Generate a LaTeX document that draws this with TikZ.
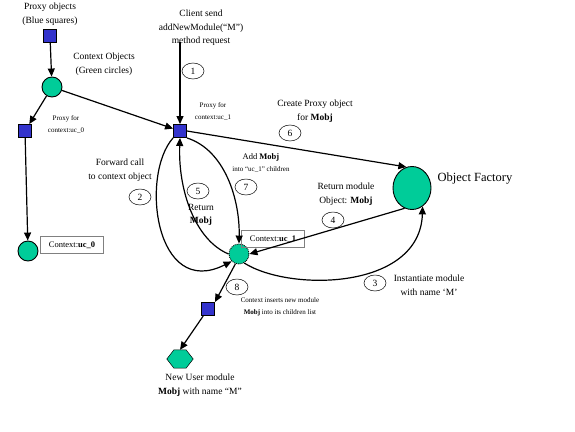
\documentclass[tikz,border=0pt]{standalone}
\usepackage{fontspec}
\setmainfont{Liberation Serif}
\usetikzlibrary{shapes.geometric,arrows.meta,calc}
\definecolor{pblue}{RGB}{51,51,204}
\definecolor{cgreen}{RGB}{0,204,153}
\tikzset{
  proxy/.style={rectangle,draw,fill=pblue,minimum size=13pt,inner sep=0pt,line width=0.9pt},
  ctx/.style={circle,draw,fill=cgreen,minimum size=20pt,inner sep=0pt,line width=0.9pt},
  num/.style={ellipse,draw,line width=0.5pt,minimum width=22pt,minimum height=16pt,inner sep=0pt,font=\fontsize{9.5}{10}\selectfont},
  lbl/.style={align=center,font=\fontsize{9.5}{13.5}\selectfont,inner sep=0pt},
  sml/.style={align=center,font=\fontsize{7}{12}\selectfont,inner sep=0pt},
  cbox/.style={draw=gray,line width=0.4pt,rectangle,inner sep=2.5pt,minimum width=63pt,minimum height=17pt,font=\fontsize{8.5}{9}\selectfont},
  arr/.style={line width=1.2pt,-{Triangle[length=8pt,width=7pt]}},
}
\begin{document}
\begin{tikzpicture}[x=1pt,y=-1pt]
\useasboundingbox (0,0) rectangle (575,431);
% nodes
\node[lbl] (tproxy) at (50,14) {Proxy objects\\(Blue squares)};
\node[proxy] (sq0) at (50,36) {};
\node[ctx] (g0) at (52,87) {};
\node[lbl] (tctx) at (104,64) {Context Objects\\(Green circles)};
\node[proxy] (pu0) at (25,131) {};
\node[sml] (tpu0) at (66,124) {Proxy for\\context:uc\_0};
\node[ctx] (cu0) at (28,251) {};
\node[cbox] (bu0) at (72,245) {Context:\textbf{uc\_0}};
\node[lbl] (tclient) at (201,28) {Client send\\addNewModule(“M”)\\method request};
\coordinate (cstart) at (180,42);
\node[num] (n1) at (193,71) {1};
\node[proxy] (pu1) at (180,131) {};
\node[sml] (tpu1) at (213,111) {Proxy for\\context:uc\_1};
\node[ellipse,draw,fill=cgreen,line width=0.9pt,minimum width=38pt,minimum height=43pt,inner sep=0pt] (fac) at (412,188) {};
\node[font=\fontsize{12.5}{14}\selectfont,inner sep=0pt] (tfac) at (475,179) {Object Factory};
\node[lbl] (tcreate) at (315,111) {Create Proxy object\\for \textbf{Mobj}};
\node[num] (n6) at (290,133) {6};
\node[sml] (tadd) at (261,163) {{\fontsize{8.5}{10}\selectfont Add \textbf{Mobj}}\\into “uc\_1” children};
\node[num] (n7) at (246,187) {7};
\node[num] (n5) at (198,191) {5};
\node[lbl] (tret) at (201,215) {Return\\\textbf{Mobj}};
\node[lbl] (tfwd) at (120,170) {Forward call\\to context object};
\node[num] (n2) at (140,197) {2};
\node[lbl] (tretm) at (346,194) {Return module\\Object: \textbf{Mobj}};
\node[num] (n4) at (333,220) {4};
\node[ctx,densely dotted] (cu1) at (239,254) {};
\node[cbox] (bu1) at (273,239) {Context:\textbf{uc\_1}};
\node[num] (n3) at (375,283) {3};
\node[lbl] (tinst) at (429,285) {Instantiate module\\with name ‘M’};
\node[num] (n8) at (237,287) {8};
\node[sml] (tins) at (280,307) {Context inserts new module\\\textbf{Mobj} into its children list};
\node[proxy] (pm) at (208,309) {};
\node[minimum width=26pt,minimum height=18pt,inner sep=0pt] (hx) at (180,359) {};
\filldraw[fill=cgreen,line width=0.5pt] (hx.west) -- ($(hx.north west)!0.27!(hx.north east)$) -- ($(hx.north west)!0.73!(hx.north east)$) -- (hx.east) -- ($(hx.south west)!0.73!(hx.south east)$) -- ($(hx.south west)!0.27!(hx.south east)$) -- cycle;
\node[lbl] (tnew) at (200,385) {New User module\\\textbf{Mobj} with name “M”};
% connectors
\draw[arr] (sq0) -- (g0);
\draw[arr] (g0) -- (pu0);
\draw[arr] (g0) -- (pu1);
\draw[arr] (pu0) -- (cu0);
\draw[arr] (cstart) -- (pu1);
\draw[arr] (pu1.east) -- (fac.105);
\draw[arr] (pu1.south west) .. controls (140,175) and (155,300) .. (cu1.225);
\draw[arr] (cu1.180) .. controls (195,240) and (178,190) .. (pu1.south);
\draw[arr] (pu1.south east) .. controls (225,150) and (240,200) .. (cu1.north);
\draw[arr] (fac.250) -- (cu1.east);
\draw[arr] (cu1.300) .. controls (290,292) and (420,290) .. (fac.300);
\draw[arr] (cu1.250) -- (pm.north east);
\draw[arr] (pm) -- (hx.north);
\end{tikzpicture}
\end{document}
